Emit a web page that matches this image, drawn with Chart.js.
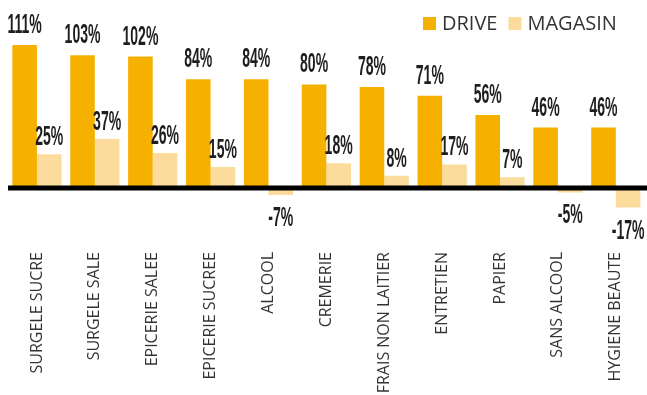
<!DOCTYPE html>
<html>
<head>
<meta charset="utf-8">
<script src="https://cdn.jsdelivr.net/npm/chart.js@4.4.1/dist/chart.umd.min.js"></script>
<style>
  html, body { margin: 0; padding: 0; background: #fff; overflow: hidden; }
  #wrap { width: 647px; height: 395px; overflow: hidden; }
</style>
</head>
<body>
<div id="wrap"><canvas id="graph" width="647" height="420"></canvas></div>
<script>
// categories + values
var categories = ['SURGELE SUCRE', 'SURGELE SALE', 'EPICERIE SALEE', 'EPICERIE SUCREE', 'ALCOOL', 'CREMERIE', 'FRAIS NON LAITIER', 'ENTRETIEN', 'PAPIER', 'SANS ALCOOL', 'HYGIENE BEAUTE'];
var drive = [111, 103, 102, 84, 84, 80, 78, 71, 56, 46, 46];
var magasin = [25, 37, 26, 15, -7, 18, 8, 17, 7, -5, -17];

var orange = '#F6B100';
var clair = '#FCDC9C';

// values on top of bars, condensed look
var labelsPlugin = {
  id: 'valeurs',
  afterDatasetsDraw: function(chart) {
    var ctx = chart.ctx;
    chart.data.datasets.forEach(function(ds, i) {
      var meta = chart.getDatasetMeta(i);
      meta.data.forEach(function(bar, j) {
        var v = ds.data[j];
        var txt = v + '%';
        var off = i == 0 ? 12 : 9;
        ctx.save();
        ctx.fillStyle = '#1e1e1e';
        ctx.font = 'bold 27px "Liberation Sans"';
        ctx.textAlign = 'center';
        var y;
        if (v >= 0) {
          ctx.textBaseline = 'alphabetic';
          y = bar.y - off;
        } else {
          ctx.textBaseline = 'top';
          y = bar.y + 10;
        }
        ctx.translate(bar.x, y);
        ctx.scale(0.52, 1);
        ctx.fillText(txt, 0, 0);
        ctx.restore();
      });
    });
  }
};

// thick black baseline
var zeroLine = {
  id: 'zero',
  afterDatasetsDraw: function(chart) {
    var ctx = chart.ctx;
    var y0 = chart.scales.y.getPixelForValue(0) + 2;
    ctx.save();
    ctx.strokeStyle = '#000';
    ctx.lineWidth = 5;
    ctx.beginPath();
    ctx.moveTo(8, y0);
    ctx.lineTo(647, y0);
    ctx.stroke();
    ctx.restore();
  }
};

// legend top right
var legende = {
  id: 'legende',
  afterDraw: function(chart) {
    var ctx = chart.ctx;
    var x = 423;
    ctx.save();
    ctx.font = '20px "Open Sans"';
    ctx.textBaseline = 'middle';
    chart.data.datasets.forEach(function(ds) {
      ctx.fillStyle = ds.backgroundColor;
      ctx.fillRect(x, 17, 13, 13);
      x += 19;
      ctx.fillStyle = '#333';
      ctx.fillText(ds.label, x, 24);
      x += ctx.measureText(ds.label).width + 11;
    });
    ctx.restore();
  }
};

var chart = new Chart(document.getElementById('graph'), {
  type: 'bar',
  data: {
    labels: categories,
    datasets: [
      { label: 'DRIVE', data: drive, backgroundColor: orange, categoryPercentage: 0.85, barPercentage: 1.0 },
      { label: 'MAGASIN', data: magasin, backgroundColor: clair, categoryPercentage: 0.85, barPercentage: 1.0 }
    ]
  },
  options: {
    responsive: false,
    animation: false,
    layout: { padding: { left: 8, right: 0, top: 0, bottom: 0 } },
    plugins: {
      legend: { display: false },
      tooltip: { enabled: false }
    },
    scales: {
      x: {
        grid: { display: false, drawTicks: false },
        border: { display: false },
        ticks: {
          autoSkip: false,
          maxRotation: 90,
          minRotation: 90,
          padding: 12,
          color: '#333',
          font: { family: 'Open Sans', size: 16 }
        },
        afterFit: function(scale) { scale.height = 180; }
      },
      y: {
        display: false,
        min: -42.5,
        max: 146.5
      }
    }
  },
  plugins: [labelsPlugin, zeroLine, legende]
});
</script>
</body>
</html>
